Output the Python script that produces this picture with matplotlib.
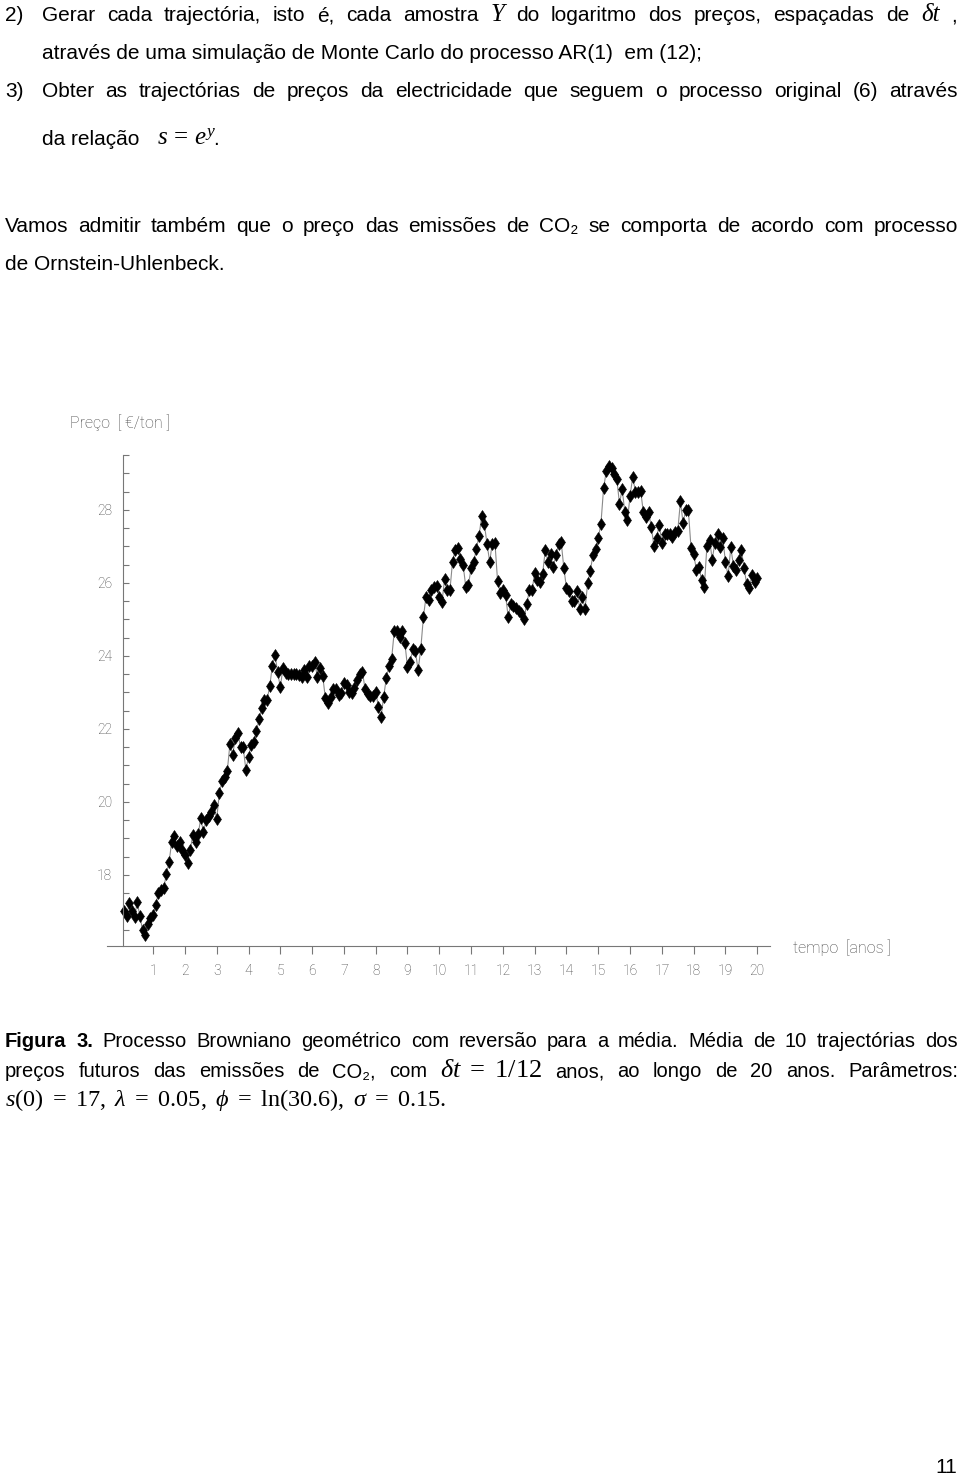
import numpy as np
import matplotlib
matplotlib.use("Agg")
import matplotlib.pyplot as plt

# ---------------- data ----------------
steps_per_year = 12
prices = [
    17.02, 16.88, 17.22, 17.00, 16.84, 17.25, 16.88, 16.49, 16.36, 16.66, 16.81, 16.90,
    17.18, 17.50, 17.59, 17.64, 18.01, 18.34, 18.89, 19.07, 18.80, 18.89, 18.68, 18.55,
    18.32, 18.67, 19.10, 18.89, 19.11, 19.55, 19.16, 19.51, 19.60, 19.73, 19.92, 19.53,
    20.24, 20.56, 20.69, 20.85, 21.59, 21.27, 21.74, 21.88, 21.49, 21.49, 20.88, 21.22,
    21.56, 21.65, 21.93, 22.27, 22.57, 22.79, 22.79, 23.16, 23.73, 24.03, 23.55, 23.14,
    23.66, 23.53, 23.49, 23.49, 23.49, 23.49, 23.47, 23.43, 23.60, 23.43, 23.71, 23.73,
    23.82, 23.42, 23.66, 23.45, 22.84, 22.70, 22.87, 23.09, 23.09, 22.93, 22.99, 23.25,
    23.21, 23.02, 22.97, 23.12, 23.34, 23.51, 23.55, 23.09, 22.96, 22.89, 22.90, 23.02,
    22.61, 22.31, 22.87, 23.39, 23.71, 23.91, 24.67, 24.67, 24.51, 24.67, 24.36, 23.69,
    23.84, 24.18, 24.12, 23.60, 24.18, 25.06, 25.62, 25.53, 25.79, 25.88, 25.90, 25.61,
    25.46, 26.10, 25.79, 25.79, 26.58, 26.89, 26.95, 26.65, 26.49, 25.88, 25.94, 26.40,
    26.58, 26.92, 27.29, 27.82, 27.61, 27.07, 26.58, 27.07, 27.10, 26.04, 25.73, 25.81,
    25.67, 25.06, 25.42, 25.36, 25.30, 25.24, 25.18, 25.01, 25.42, 25.79, 25.79, 26.28,
    26.08, 26.01, 26.25, 26.90, 26.58, 26.79, 26.43, 26.75, 27.06, 27.11, 26.41, 25.85,
    25.78, 25.51, 25.51, 25.78, 25.29, 25.60, 25.29, 25.99, 26.33, 26.77, 26.92, 27.22,
    27.62, 28.59, 29.05, 29.21, 29.14, 28.99, 28.84, 28.16, 28.57, 27.95, 27.71, 28.39,
    28.90, 28.50, 28.50, 28.52, 27.93, 27.79, 27.93, 27.53, 27.01, 27.22, 27.59, 27.10,
    27.34, 27.34, 27.34, 27.25, 27.38, 27.43, 28.23, 27.63, 28.00, 27.98, 26.95, 26.79,
    26.36, 26.43, 26.08, 25.88, 27.01, 27.18, 26.63, 27.10, 27.34, 26.99, 27.22, 26.56,
    26.19, 26.97, 26.47, 26.36, 26.62, 26.90, 26.41, 25.97, 25.85, 26.21, 26.03, 26.14,
]
x_years = [1, 2, 3, 4, 5, 6, 7, 8, 9, 10, 11, 12, 13, 14, 15, 16, 17, 18, 19, 20]
y_labels = [18, 20, 22, 24, 26, 28]
y_minor_step = 0.5

W, H = 960, 1484
fig = plt.figure(figsize=(W / 100, H / 100), dpi=100)
renderer = fig.canvas.get_renderer()

SANS = ["Liberation Sans", "DejaVu Sans"]
SERIF = ["Liberation Serif", "DejaVu Serif"]

plt.rcParams["mathtext.fontset"] = "custom"
plt.rcParams["mathtext.rm"] = "Liberation Serif"
plt.rcParams["mathtext.it"] = "Liberation Serif:italic"


def fy(y):
    return 1 - y / H


def put(s, x, y, **kw):
    kw.setdefault("family", SANS)
    return fig.text(x / W, fy(y), s, ha="left", va="baseline", **kw)


def line(tokens, y, x0, x1=None, gap=5.5):
    objs = []
    for s, kw in tokens:
        kw = dict(kw)
        objs.append(put(s, x0, y, **kw))
    widths = [o.get_window_extent(renderer=renderer).width for o in objs]
    if x1 is not None and len(objs) > 1:
        gap = (x1 - x0 - sum(widths)) / (len(objs) - 1)
    x = x0
    for o, w in zip(objs, widths):
        o.set_x(x / W)
        x += w + gap


BODY = dict(fontsize=15, family=SANS)
CAP = dict(fontsize=14.5, family=SANS)
MATH = dict(fontsize=18, family=SERIF, style="italic")


def words(text, st=BODY):
    return [(w, st) for w in text.split(" ")]


# ---------------- top text ----------------
put("2)", 5, 21, **BODY)
line(words("Gerar cada trajectória, isto é, cada amostra") + [("Y", MATH)]
     + words("do logaritmo dos preços, espaçadas de") + [("δt", MATH), (",", BODY)],
     21, 42, 957)
put("através de uma simulação de Monte Carlo do processo AR(1)  em (12);", 42, 59, **BODY)
put("3)", 5, 97, **BODY)
line(words("Obter as trajectórias de preços da electricidade que seguem o processo original (6) através"),
     97, 42, 958)
put("da relação", 42, 145, **BODY)
put(r"$s\,=\,e^{y}$", 157, 145, fontsize=18)
put(".", 213, 145, **BODY)
line(words("Vamos admitir também que o preço das emissões de CO₂ se comporta de acordo com processo"),
     232, 5, 958)
put("de Ornstein-Uhlenbeck.", 5, 270, **BODY)

# ---------------- chart ----------------
ax_x0, ax_x1 = 107, 770
ax_y0, ax_y1 = 455, 946
ax = fig.add_axes([ax_x0 / W, 1 - ax_y1 / H, (ax_x1 - ax_x0) / W, (ax_y1 - ax_y0) / H])
t = np.arange(1, len(prices) + 1) / steps_per_year
ax.plot(t, prices, color="#8a8a8a", lw=0.8, marker="d", markersize=6,
        markerfacecolor="black", markeredgecolor="black", markeredgewidth=0.4)
ax.set_xlim(-0.45, 20.4)
ax.set_ylim(16.05, 29.5)
for s in ("top", "right"):
    ax.spines[s].set_visible(False)
ax.spines["left"].set_position(("data", 0.057))
ax.spines["left"].set_color("#777777")
ax.spines["bottom"].set_color("#777777")
ax.spines["left"].set_linewidth(0.8)
ax.spines["bottom"].set_linewidth(0.8)

yt = np.arange(16.5, 29.51, y_minor_step)
ax.set_yticks(yt)
ax.set_yticklabels([str(int(v)) if (v in y_labels) else "" for v in yt])
ax.set_xticks(x_years)
ax.set_xticklabels([str(v) for v in x_years])
ax.tick_params(axis="y", direction="in", length=4, width=0.8, color="#777777",
               pad=8, labelsize=10, labelcolor="#444444")
ax.tick_params(axis="x", direction="out", length=6, width=0.8, color="#777777",
               pad=7, labelsize=10, labelcolor="#444444")
for lab in ax.get_xticklabels() + ax.get_yticklabels():
    lab.set_family(["Roboto", "DejaVu Sans"])
    lab.set_fontweight("light")

fig.text(70 / W, fy(428), "Preço  [ €/ton ]", fontsize=11.5, color="#444444",
         family=["Roboto", "DejaVu Sans"], fontweight="light", ha="left", va="baseline")
fig.text(793 / W, fy(953), "tempo  [anos ]", fontsize=11.5, color="#444444",
         family=["Roboto", "DejaVu Sans"], fontweight="light", ha="left", va="baseline")

# ---------------- caption ----------------
BOLD = dict(CAP, fontweight="bold")
line([("Figura", BOLD), ("3.", BOLD)]
     + words("Processo Browniano geométrico com reversão para a média. Média de 10 trajectórias dos", CAP),
     1047, 5, 958)
line(words("preços futuros das emissões de CO₂, com", CAP)
     + [(r"$\delta t\ =\ 1/12$", dict(fontsize=19))]
     + words("anos, ao longo de 20 anos. Parâmetros:", CAP),
     1077, 5, 958)
put(r"$s(0)\ =\ 17,\ \lambda\ =\ 0.05,\ \phi\ =\ \ln(30.6),\ \sigma\ =\ 0.15.$", 5, 1106, fontsize=17.5)

put("11", 935, 1473, **BODY)

fig.savefig("out.png", dpi=100)
